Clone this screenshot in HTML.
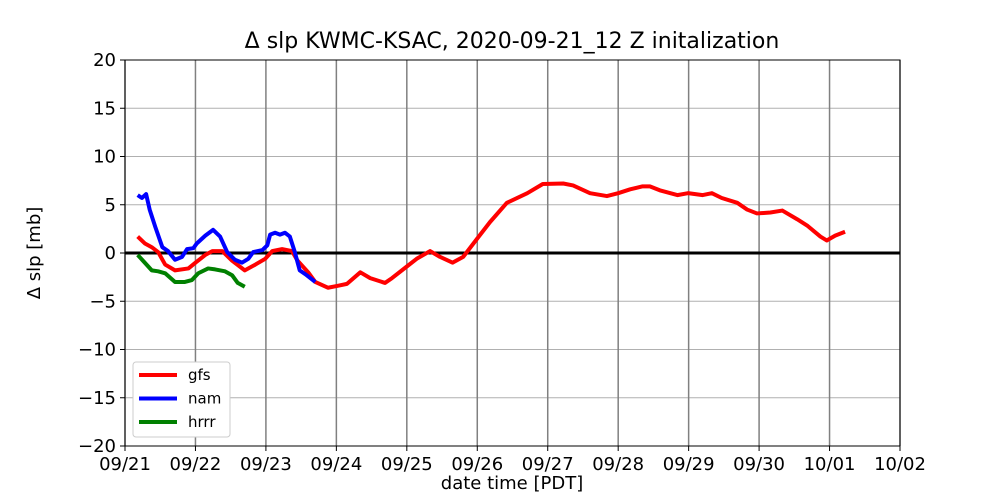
<!DOCTYPE html>
<html><head><meta charset="utf-8"><style>body{margin:0;background:#fff}svg{display:block;font-family:"DejaVu Sans","Liberation Sans",sans-serif}</style></head>
<body>
<svg id="chart" width="1000" height="500">
<text x="512" y="48" text-anchor="middle" font-size="22">Δ slp KWMC-KSAC, 2020-09-21_12 Z initalization</text>
<text x="512" y="489" text-anchor="middle" font-size="18">date time [PDT]</text>
<text transform="translate(40,253) rotate(-90)" text-anchor="middle" font-size="18">Δ slp [mb]</text>
<g id="grid"></g><g id="series"></g><g id="axes"></g>
</svg>
<script>
const xTickLabels=["09/21","09/22","09/23","09/24","09/25","09/26","09/27","09/28","09/29","09/30","10/01","10/02"];
const yTicks=[-20,-15,-10,-5,0,5,10,15,20];
const gfsDays=[0.18,0.28,0.38,0.47,0.57,0.71,0.9,1.0,1.14,1.24,1.38,1.52,1.7,1.85,1.99,2.09,2.23,2.37,2.45,2.6,2.7,2.88,3.02,3.15,3.34,3.48,3.69,3.79,4.0,4.14,4.33,4.47,4.65,4.8,5.0,5.18,5.42,5.71,5.93,6.22,6.36,6.6,6.84,7.0,7.17,7.34,7.45,7.59,7.84,7.99,8.2,8.33,8.47,8.69,8.83,8.97,9.16,9.33,9.54,9.69,9.87,9.96,10.08,10.22];
const gfsVals=[1.7,1.0,0.6,0.1,-1.2,-1.8,-1.6,-1.0,-0.2,0.2,0.2,-0.8,-1.8,-1.2,-0.6,0.2,0.4,0.2,-0.8,-2.0,-3.0,-3.6,-3.4,-3.2,-2.0,-2.6,-3.1,-2.6,-1.4,-0.6,0.2,-0.4,-1.0,-0.4,1.5,3.2,5.2,6.2,7.15,7.2,7.0,6.2,5.9,6.2,6.6,6.9,6.9,6.5,6.0,6.2,6.0,6.2,5.7,5.2,4.5,4.1,4.2,4.4,3.5,2.8,1.7,1.3,1.8,2.2];
const namDays=[0.18,0.24,0.30,0.35,0.43,0.53,0.61,0.71,0.81,0.88,0.97,1.02,1.14,1.25,1.35,1.45,1.56,1.66,1.75,1.82,1.95,2.02,2.06,2.13,2.2,2.27,2.34,2.41,2.48,2.56,2.63,2.70];
const namVals=[6.0,5.7,6.1,4.5,2.7,0.6,0.2,-0.7,-0.4,0.4,0.5,1.0,1.8,2.4,1.7,0.1,-0.7,-1.0,-0.6,0.1,0.3,0.8,1.9,2.1,1.9,2.1,1.7,0.1,-1.8,-2.2,-2.6,-3.0];
const hrrrDays=[0.18,0.28,0.38,0.47,0.57,0.71,0.85,0.95,1.04,1.18,1.28,1.42,1.52,1.6,1.7];
const hrrrVals=[-0.2,-1.0,-1.8,-1.9,-2.1,-3.0,-3.0,-2.8,-2.1,-1.6,-1.7,-1.9,-2.3,-3.1,-3.5];
const NS="http://www.w3.org/2000/svg";
const L=125,R=900,T=60,B=446;
const xs=d=>L+d*(R-L)/11;
const ys=v=>B-(v+20)*(B-T)/40;
function mk(tag,attrs,parent){const e=document.createElementNS(NS,tag);for(const k in attrs)e.setAttribute(k,attrs[k]);parent.appendChild(e);return e;}
const grid=document.getElementById('grid'),axes=document.getElementById('axes'),series=document.getElementById('series');
yTicks.forEach(v=>{
  const l=mk('line',{x1:L,x2:R,y1:ys(v),y2:ys(v),stroke:'#b0b0b0','stroke-width':1},grid);
  
  
  const t=mk('line',{x1:L-5,x2:L,y1:ys(v),y2:ys(v),stroke:'#000'},axes);
  
  
  const tx=mk('text',{x:L-9,y:ys(v)+6,'text-anchor':'end','font-size':18},axes);
  tx.textContent=v<0?'−'+(-v):String(v);
  
  
});
xTickLabels.forEach((s,i)=>{
  const l=mk('line',{x1:xs(i),x2:xs(i),y1:T,y2:B,stroke:'#808080','stroke-width':1.5},grid);
  
  
  const t=mk('line',{x1:xs(i),x2:xs(i),y1:B,y2:B+5,stroke:'#000'},axes);
  
  
  const tx=mk('text',{x:xs(i),y:B+24,'text-anchor':'middle','font-size':18},axes);
  tx.textContent=s;
  
  
});
const z=mk('line',{x1:L,x2:R,y1:ys(0),y2:ys(0),stroke:'#000','stroke-width':3},grid);


const fr=mk('rect',{x:L,y:T,width:R-L,height:B-T,fill:'none',stroke:'#000','stroke-width':1},axes);


function line(days,vals,color,name){
  const p=mk('polyline',{points:days.map((d,i)=>xs(d)+','+ys(vals[i])).join(' '),fill:'none',stroke:color,'stroke-width':4,'stroke-linejoin':'round'},series);
  
  
}
line(gfsDays,gfsVals,'#ff0000','gfs-line');
line(namDays,namVals,'#0000ff','nam-line');
line(hrrrDays,hrrrVals,'#008000','hrrr-line');
const lg=mk('g',{},axes);


mk('rect',{x:133,y:362,width:97,height:75,rx:3,fill:'#fff',stroke:'#ccc'},lg);
[['gfs','#ff0000'],['nam','#0000ff'],['hrrr','#008000']].forEach((e,i)=>{
  const g=mk('g',{},lg);
  
  
  const y=375+i*23.5;
  mk('line',{x1:139,x2:177,y1:y,y2:y,stroke:e[1],'stroke-width':4},g);
  const t=mk('text',{x:188,y:y+5,'font-size':15},g);
  t.textContent=e[0];
});
</script>
</body></html>
